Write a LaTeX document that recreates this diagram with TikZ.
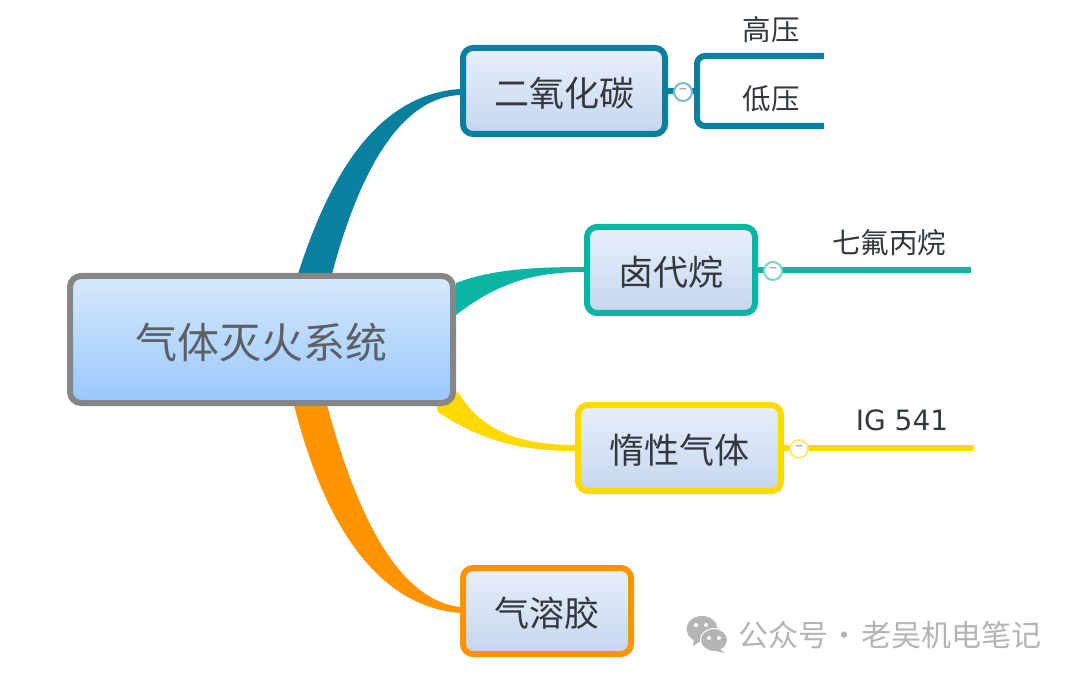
\documentclass[tikz,border=0pt]{standalone}
\usepackage{fontspec}
\setmainfont{Noto Sans CJK SC}
\newfontfamily\latinfont{DejaVu Sans}
\usetikzlibrary{calc,backgrounds}
\definecolor{cblue}{HTML}{0B7FA0}
\definecolor{cgreen}{HTML}{0AB5A3}
\definecolor{cyellow}{HTML}{FFD900}
\definecolor{corange}{HTML}{FF9300}
\definecolor{cink}{HTML}{33383F}
\definecolor{cmark}{HTML}{B4B4B4}
\definecolor{rtop}{HTML}{D8E9FC}
\definecolor{rbot}{HTML}{98C8FC}
\definecolor{stop}{HTML}{E8EFFA}
\definecolor{sbot}{HTML}{C6D6F0}
\newcommand{\lift}[1]{\raisebox{-2.5pt}[\height][\depth]{#1}}
\tikzstyle{rootbox}=[rectangle,rounded corners=11pt,draw=gray!95,line width=6pt,top color=rtop,bottom color=rbot,minimum width=383pt,minimum height=127pt,text=cink!80!white,font=\fontsize{42}{42}\selectfont]
\tikzstyle{subbox}=[rectangle,rounded corners=10pt,line width=6pt,top color=stop,bottom color=sbot,minimum height=86pt,text=cink,font=\fontsize{35}{35}\selectfont]
\tikzstyle{leaf}=[text=cink,inner sep=0pt,font=\fontsize{28.5}{28.5}\selectfont]
\tikzstyle{limb}=[line width=6pt,line cap=butt]
\tikzstyle{fold}=[circle,draw,fill=white,line width=2pt,minimum size=18pt,inner sep=0pt,text=gray,font=\fontsize{14}{14}\selectfont]
\begin{document}
\begin{tikzpicture}[x=1pt,y=-1pt]
\useasboundingbox (0,0) rectangle (1080,679);
\node[rootbox] (sys) at (261.5,339.5) {\lift{气体灭火系统}};
\node[subbox,draw=cblue,minimum width=202pt] (co) at (564,91) {\lift{二氧化碳}};
\node[subbox,draw=cgreen,minimum width=168pt] (hal) at (671,270) {\lift{卤代烷}};
\node[subbox,draw=cyellow,minimum width=203pt] (ine) at (679.5,448) {\lift{惰性气体}};
\node[subbox,draw=corange,minimum width=168pt] (aer) at (547,611) {\lift{气溶胶}};
\coordinate (fork) at (697,91);
\coordinate (hiend) at (824,56);
\coordinate (loend) at (824,126);
\coordinate (halend) at (971,270);
\coordinate (ineend) at (974,448);
\begin{scope}[on background layer]
\fill[cblue] (298,274) .. controls (325,190) and (370,95) .. ($(co.west)+(0,-2)$)
      -- ($(co.west)+(0,4)$) .. controls (410,97) and (365,150) .. (332,274) -- cycle;
\fill[cgreen] (456,283) .. controls (490,270) and (530,267) .. ($(hal.west)+(0,-3)$)
      -- ($(hal.west)+(0,2)$) .. controls (530,272) and (495,285) .. (456,315) -- cycle;
\fill[cyellow] (458,392) .. controls (478,425) and (510,445) .. ($(ine.west)+(0,-3)$)
      -- ($(ine.west)+(0,3)$) .. controls (520,451) and (480,440) .. (438,412) -- (436,404) -- cycle;
\fill[corange] (294,405) .. controls (318,500) and (365,605) .. ($(aer.west)+(0,2)$)
      -- ($(aer.west)+(0,-4)$) .. controls (400,600) and (358,520) .. (327,405) -- cycle;
\draw[limb,cblue] (co.east) -- (fork);
\draw[limb,cblue,rounded corners=8pt] (hiend) -| (fork) |- (loend);
\draw[limb,cgreen] (hal.east) -- (halend);
\draw[limb,cyellow] (ine.east) -- (ineend);
\end{scope}
\node[fold,draw=cblue!55!white] (foldco) at (683,92) {−};
\node[fold,draw=cgreen!55!white] (foldhal) at (773,271) {−};
\node[fold,draw=cyellow!55!white] (foldine) at (799,449) {−};
\node[leaf] (hi) at (771,30) {高压};
\node[leaf] (lo) at (771,99) {低压};
\node[leaf] (hept) at (889,243) {七氟丙烷};
\node[leaf,font=\latinfont\fontsize{28}{28}\selectfont] (ig) at (902,420) {IG 541};
\node[inner sep=0pt,text=cmark,font=\fontsize{30}{30}\selectfont,anchor=west] (mark) at (738,635) {公众号\hspace{-5pt} · \hspace{-5pt}老吴机电笔记};
\fill[cmark] (702,629) ellipse [x radius=15.5pt,y radius=13pt];
\fill[cmark] (694,638) -- (693,646) -- (702,640) -- cycle;
\fill[cmark,draw=white,line width=1pt] (714,640) ellipse [x radius=13.5pt,y radius=11.5pt];
\fill[cmark] (719,648) -- (724,653) -- (712,650) -- cycle;
\foreach \ex/\ey in {696/625,706/625,709/638,719/638}
  \fill[white] (\ex,\ey) circle (2pt);
\end{tikzpicture}
\end{document}
